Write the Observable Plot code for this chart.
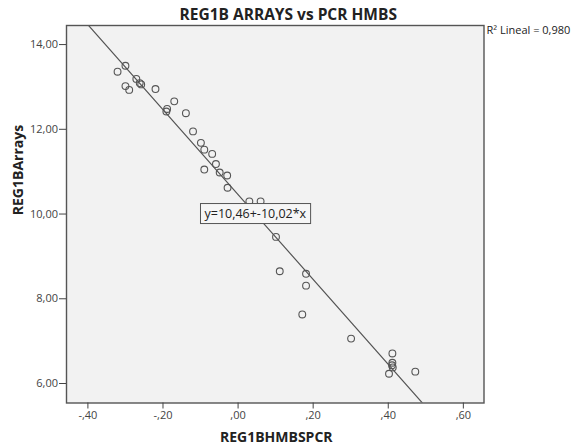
<!DOCTYPE html>
<html><head><meta charset="utf-8">
<script src="https://cdn.jsdelivr.net/npm/d3@7"></script>
<script src="https://cdn.jsdelivr.net/npm/@observablehq/plot@0.6"></script>
<style>body{margin:0;background:#fff}</style>
</head><body><div id="chart"></div>
<script>
// Data
const pcrHMBS = [-0.300, -0.321, -0.271, -0.262, -0.258, -0.300, -0.290, -0.220, -0.170, -0.189, -0.191, -0.139,
  -0.120, -0.099, -0.090, -0.069, -0.059, -0.090, -0.049, -0.029, -0.028, 0.030, 0.060, 0.101, 0.111,
  0.181, 0.181, 0.171, 0.301, 0.411, 0.411, 0.410, 0.412, 0.402, 0.472];
const arrays = [13.50, 13.36, 13.19, 13.09, 13.06, 13.02, 12.93, 12.95, 12.66, 12.48, 12.42, 12.38,
  11.95, 11.68, 11.52, 11.42, 11.18, 11.05, 10.98, 10.91, 10.62, 10.30, 10.30, 9.46, 8.65,
  8.59, 8.31, 7.63, 7.06, 6.71, 6.49, 6.43, 6.38, 6.23, 6.28];
const xTicks = [-0.4, -0.2, 0, 0.2, 0.4, 0.6];
const yTicks = [6, 8, 10, 12, 14];
const fitIntercept = 10.46;
const fitSlope = -10.02;
const rSquared = 0.980;
const titleText = "REG1B ARRAYS vs PCR HMBS";
const xLabel = "REG1BHMBSPCR";
const yLabel = "REG1BArrays";

const xDomain = [-0.457, 0.655];
const yDomain = [5.54, 14.45];

const points = pcrHMBS.map((x, i) => ({x, y: arrays[i]}));
const fitLine = xDomain.map(x => ({x, y: fitIntercept + fitSlope * x}));
const comma = (d, n) => d.toFixed(n).replace(".", ",");
const tickFmt = d => comma(d, 2).replace(/^(-?)0,/, "$1,");
const eqText = `y=${comma(fitIntercept, 2)}+${comma(fitSlope, 2)}*x`;
const r2Text = `R² Lineal = ${comma(rSquared, 3)}`;
const eqPoint = [{x: (10 - fitIntercept) / fitSlope, y: 10}];

const FONT = "Open Sans";
const plot = Plot.plot({
  width: 574, height: 445,
  marginTop: 25, marginLeft: 66, marginRight: 90.5, marginBottom: 42.5,
  style: {fontFamily: FONT, background: "#fff", color: "#333"},
  x: {domain: xDomain},
  y: {domain: yDomain},
  marks: [
    Plot.frame({fill: "#f2f2f2"}),
    Plot.line(fitLine, {x: "x", y: "y", stroke: "#555", strokeWidth: 1.2, clip: true}),
    Plot.dot(points, {x: "x", y: "y", r: 3.4, stroke: "#555", strokeWidth: 1.1, fill: "none"}),
    Plot.frame({stroke: "#555", strokeWidth: 1.4}),
    Plot.axisX({ticks: xTicks, tickFormat: tickFmt, tickSize: 6, tickPadding: 2.5, label: null, fontSize: 11, stroke: "#444", fill: "#444"}),
    Plot.axisY({ticks: yTicks, tickFormat: tickFmt, tickSize: 7, tickPadding: 1.5, label: null, fontSize: 11, stroke: "#444", fill: "#444"}),
    Plot.text(eqPoint, {x: "x", y: "y", text: () => eqText, fontSize: 12.5, fill: "#222"}),
    Plot.text([titleText], {frameAnchor: "top", lineAnchor: "middle", dx: 13, dy: -10.5, fontSize: 15.5, fontWeight: "bold", fill: "#222"}),
    Plot.text([xLabel], {frameAnchor: "bottom", lineAnchor: "middle", dx: 1, dy: 34.5, fontSize: 14, fontWeight: "bold", fill: "#222"}),
    Plot.text([yLabel], {frameAnchor: "left", lineAnchor: "middle", dx: -48, dy: 1, rotate: -90, fontSize: 14, fontWeight: "bold", fill: "#222"}),
    Plot.text([r2Text], {frameAnchor: "top-right", lineAnchor: "middle", textAnchor: "start", dx: 2.5, dy: 5, fontSize: 11, fill: "#222"})
  ]
});
document.getElementById("chart").appendChild(plot);

// draw the box behind the fit-line equation label
const eqEl = Array.from(plot.querySelectorAll("text")).find(t => t.textContent === eqText);
if (eqEl) {
  const bb = eqEl.getBBox();
  const ns = "http://www.w3.org/2000/svg";
  const rect = document.createElementNS(ns, "rect");
  const tr = eqEl.getAttribute("transform");
  if (tr) rect.setAttribute("transform", tr);
  rect.setAttribute("x", bb.x - 4);
  rect.setAttribute("y", bb.y - 1.5);
  rect.setAttribute("width", bb.width + 8);
  rect.setAttribute("height", bb.height + 3);
  rect.setAttribute("fill", "#f6f6f6");
  rect.setAttribute("stroke", "#555");
  rect.setAttribute("stroke-width", "1");
  eqEl.parentNode.insertBefore(rect, eqEl);
}
</script>
</body></html>
